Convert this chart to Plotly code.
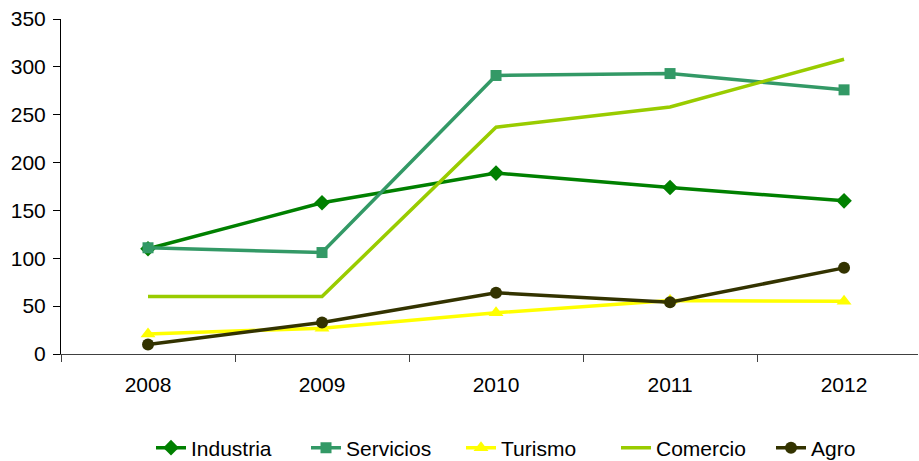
import plotly.graph_objects as go

years = ['2008', '2009', '2010', '2011', '2012']

industria = [110, 158, 189, 174, 160]
servicios = [111, 106, 291, 293, 276]
turismo = [21, 27, 43, 56, 55]
comercio = [60, 60, 237, 258, 308]
agro = [10, 33, 64, 54, 90]

series = [
    # nombre, valores, color, marcador
    ('Industria', industria, '#008000', 'diamond', 12),
    ('Servicios', servicios, '#339966', 'square', 11),
    ('Turismo', turismo, '#FFFF00', 'triangle-up', 13),
    ('Comercio', comercio, '#99CC00', None, 0),
    ('Agro', agro, '#333300', 'circle', 12),
]

fig = go.Figure()
for name, vals, color, symbol, size in series:
    if symbol:
        fig.add_trace(go.Scatter(x=years, y=vals, name=name, mode='lines+markers',
                                 line=dict(color=color, width=3.5),
                                 marker=dict(symbol=symbol, size=size, color=color)))
    else:
        fig.add_trace(go.Scatter(x=years, y=vals, name=name, mode='lines',
                                 line=dict(color=color, width=3.5)))

font = dict(family='Liberation Sans, Arial', size=21, color='black')

# el gráfico original está recortado a la derecha
fig.update_xaxes(type='category', range=[-0.5, 4.425], automargin=False,
                 showline=True, linecolor='#404040', linewidth=1,
                 ticks='outside', tickson='boundaries', ticklen=7, tickcolor='#404040',
                 ticklabelstandoff=12,
                 showgrid=False, zeroline=False, tickfont=font)
fig.update_yaxes(range=[0, 350], dtick=50, automargin=False,
                 showline=True, linecolor='black', linewidth=1,
                 ticks='outside', ticklen=7, tickcolor='black',
                 ticklabelstandoff=3,
                 showgrid=False, zeroline=False, tickfont=font)

fig.update_layout(width=919, height=461,
                  margin=dict(l=61, r=1, t=19, b=107, autoexpand=False),
                  plot_bgcolor='white', paper_bgcolor='white',
                  showlegend=True,
                  legend=dict(orientation='h', xref='container', yref='container',
                              x=151 / 919, xanchor='left',
                              y=13 / 461, yanchor='middle',
                              entrywidth=110, entrywidthmode='pixels',
                              font=font, tracegroupgap=0))

# quitar el margen del body para que la figura ocupe toda la ventana
fig.write_html("out.html", config={'displayModeBar': False},
               post_script="document.body.style.margin='0';")
